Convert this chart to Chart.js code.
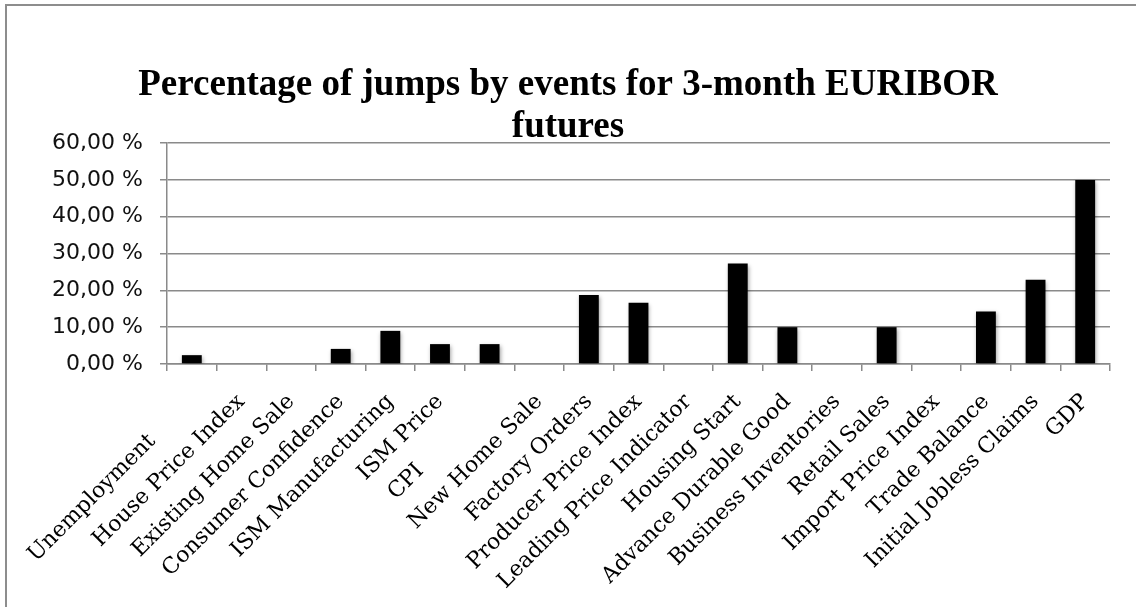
<!DOCTYPE html>
<html>
<head>
<meta charset="utf-8">
<title>Percentage of jumps by events for 3-month EURIBOR futures</title>
<script src="https://cdn.jsdelivr.net/npm/chart.js@4.4.1/dist/chart.umd.min.js"></script>
<style>
  html, body { margin: 0; padding: 0; background: #fff; overflow: hidden; }
  #chart { display: block; }
</style>
</head>
<body>
<canvas id="chart" width="1136" height="607"></canvas>
<script>
// macro announcements on the x axis
const categories = [
  'Unemployment', 'House Price Index', 'Existing Home Sale', 'Consumer Confidence',
  'ISM Manufacturing', 'ISM Price', 'CPI', 'New Home Sale', 'Factory Orders',
  'Producer Price Index', 'Leading Price Indicator', 'Housing Start',
  'Advance Durable Good', 'Business Inventories', 'Retail Sales',
  'Import Price Index', 'Trade Balance', 'Initial Jobless Claims', 'GDP'
];

// share of jumps (%) per event
const jumpShares = [
  2.4, 0, 0, 4.1,
  9.0, 5.4, 5.4, 0, 18.75,
  16.67, 0, 27.27,
  10.0, 0, 10.0,
  0, 14.29, 22.9, 50.0
];

const yMin = 0;
const yMax = 60;
const yStep = 10;

const titleLines = ['Percentage of jumps by events for 3-month EURIBOR', 'futures'];

// a couple of labels sit further down their slant
const labelTail = { 0: 8, 6: 14 };

const AXIS_GREY = '#8a8a8a';

// outer chart frame (only the top and left edges fall inside the page)
const frame = {
  id: 'frame',
  beforeDraw(chart) {
    const c = chart.ctx;
    c.save();
    c.fillStyle = '#8d8d8d';
    c.fillRect(5, 4, chart.width - 5, 2);
    c.fillRect(5, 4, 2, chart.height - 4);
    c.restore();
  }
};

const barShadow = {
  id: 'barShadow',
  beforeDatasetDraw(chart) {
    const c = chart.ctx;
    c.save();
    c.shadowColor = 'rgba(0,0,0,0.35)';
    c.shadowBlur = 4;
    c.shadowOffsetX = 1;
    c.shadowOffsetY = 2;
  },
  afterDatasetDraw(chart) {
    chart.ctx.restore();
  }
};

function pct(v) {
  return v.toFixed(2).replace('.', ',') + ' %';
}

const ctx = document.getElementById('chart').getContext('2d');
new Chart(ctx, {
  type: 'bar',
  data: {
    labels: categories,
    datasets: [{
      data: jumpShares,
      backgroundColor: '#000',
      borderWidth: 0,
      barPercentage: 0.4,
      categoryPercentage: 1.0
    }]
  },
  plugins: [frame, barShadow],
  options: {
    responsive: false,
    animation: false,
    // equal side padding keeps the title centred on the page
    layout: { padding: { left: 26, right: 26, top: 0, bottom: 0 } },
    plugins: {
      legend: { display: false },
      tooltip: { enabled: false },
      title: {
        display: true,
        text: titleLines,
        color: '#000',
        font: { family: '"Liberation Serif", "Times New Roman", serif', size: 37, weight: 'bold', lineHeight: 1.15 },
        padding: { top: 64, bottom: -6 }
      }
    },
    scales: {
      x: {
        afterFit(scale) { scale.height = 243; },
        grid: {
          drawOnChartArea: false,
          drawTicks: true,
          tickLength: 7,
          color: AXIS_GREY,
          lineWidth: 1.5
        },
        border: { display: true, color: AXIS_GREY, width: 1.5 },
        ticks: {
          autoSkip: false,
          maxRotation: 45,
          minRotation: 45,
          padding: 18,
          color: '#000',
          font: { family: '"DejaVu Serif", serif', size: 22 },
          callback(value, index) {
            const name = categories[index];
            const tail = labelTail[index] || 0;
            return name + ' '.repeat(tail);
          }
        }
      },
      y: {
        min: yMin,
        max: yMax,
        afterFit(scale) { scale.width = 141; },
        grid: {
          color: AXIS_GREY,
          lineWidth: 1.5,
          tickLength: 7
        },
        border: { display: true, color: AXIS_GREY, width: 1.5 },
        ticks: {
          stepSize: yStep,
          padding: 17,
          color: '#111',
          font: { family: '"DejaVu Sans", sans-serif', size: 22 },
          callback(v) { return pct(v); }
        }
      }
    }
  }
});
</script>
</body>
</html>
